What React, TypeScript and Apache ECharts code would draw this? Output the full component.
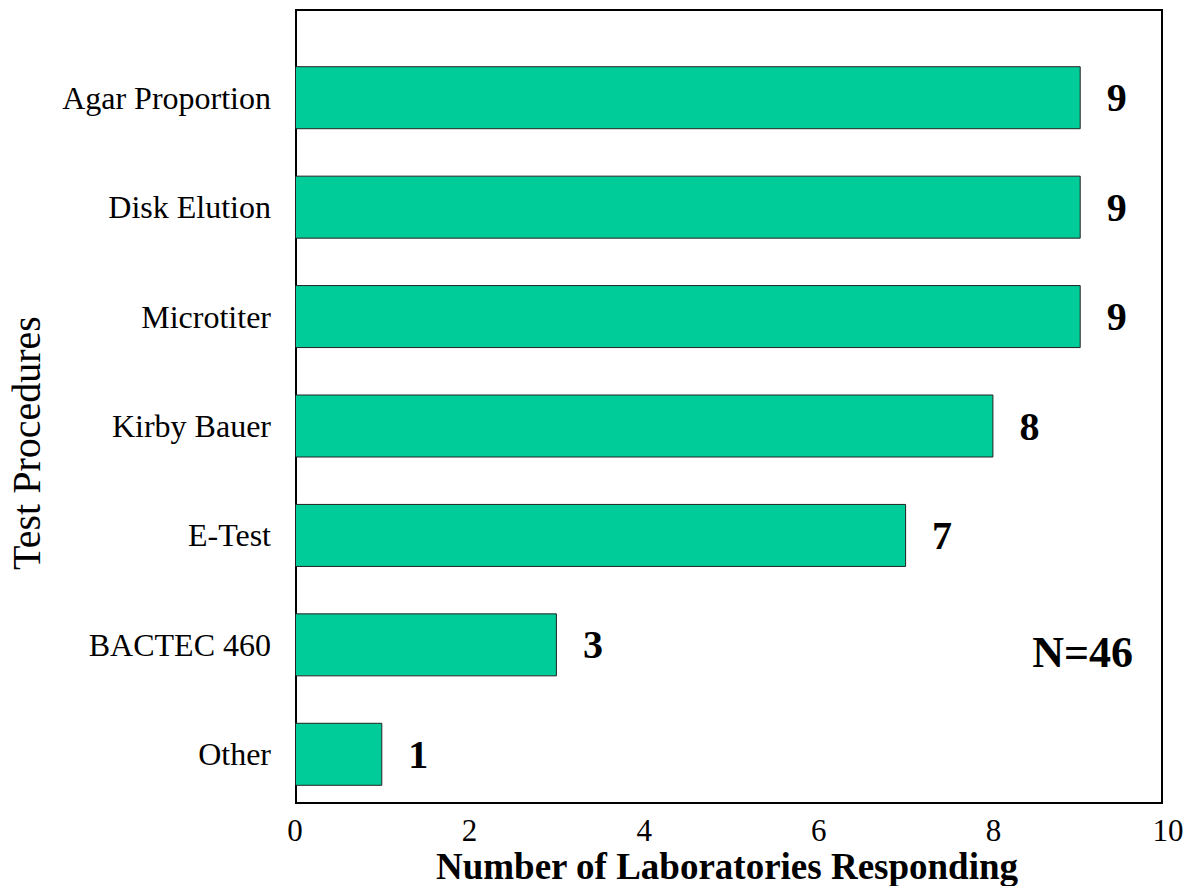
import React, { useEffect, useRef } from "react";
import * as echarts from "echarts";

const categories = ["Other", "BACTEC 460", "E-Test", "Kirby Bauer", "Microtiter", "Disk Elution", "Agar Proportion"];
const values = [1, 3, 7, 8, 9, 9, 9];
const xTicks = { min: 0, max: 10, interval: 2 };
const xTitle = "Number of Laboratories Responding";
const yTitle = "Test Procedures";
const note = "N=46";

const SERIF = "'Liberation Serif', 'Times New Roman', serif";

export default function App() {
  const ref = useRef<HTMLDivElement>(null);
  useEffect(() => {
    if (!ref.current) return;
    const chart = echarts.init(ref.current, undefined, { renderer: "svg" });
    chart.setOption({
      animation: false,
      backgroundColor: "#fff",
      grid: [
        { left: 296, right: 26, top: 10, bottom: 83, show: true, borderColor: "#000", borderWidth: 2, backgroundColor: "transparent", outerBoundsMode: "none", containLabel: false },
        { left: 295, right: 20, top: 43, bottom: 77, outerBoundsMode: "none", containLabel: false },
      ],
      xAxis: [
        { gridIndex: 0, type: "value", min: 0, max: 1, show: false },
        {
          gridIndex: 1,
          type: "value",
          min: xTicks.min,
          max: xTicks.max,
          interval: xTicks.interval,
          axisLine: { show: false },
          axisTick: { show: false },
          splitLine: { show: false },
          axisLabel: { fontFamily: SERIF, fontSize: 31, lineHeight: 30, color: "#000", margin: 6 },
        },
      ],
      yAxis: [
        { gridIndex: 0, type: "value", show: false },
        {
          gridIndex: 1,
          type: "category",
          data: categories,
          axisLine: { show: false },
          axisTick: { show: false },
          axisLabel: { fontFamily: SERIF, fontSize: 32, color: "#000", margin: 24 },
        },
      ],
      series: [
        {
          type: "bar",
          xAxisIndex: 1,
          yAxisIndex: 1,
          data: values,
          barWidth: 63,
          itemStyle: { color: "#00CC99", borderColor: "#222", borderWidth: 1 },
          label: {
            show: true,
            position: "right",
            distance: 26,
            fontFamily: SERIF,
            fontSize: 40,
            fontWeight: "bold",
            color: "#000",
          },
        },
      ],
      graphic: [
        {
          type: "text",
          right: 55,
          top: 630,
          style: { text: note, fontFamily: SERIF, fontSize: 44, fontWeight: "bold", fill: "#000" },
        },
        {
          type: "text",
          x: 727,
          y: 866,
          style: {
            text: xTitle,
            fontFamily: SERIF,
            fontSize: 37,
            lineHeight: 38,
            fontWeight: "bold",
            fill: "#000",
            align: "center",
            verticalAlign: "middle",
          },
        },
        {
          type: "text",
          x: 26,
          y: 443,
          rotation: Math.PI / 2,
          style: {
            text: yTitle,
            fontFamily: SERIF,
            fontSize: 40,
            fill: "#000",
            align: "center",
            verticalAlign: "middle",
          },
        },
      ],
    });
    return () => chart.dispose();
  }, []);
  return <div ref={ref} style={{ position: "fixed", left: 0, top: 0, width: 1188, height: 886 }} />;
}
